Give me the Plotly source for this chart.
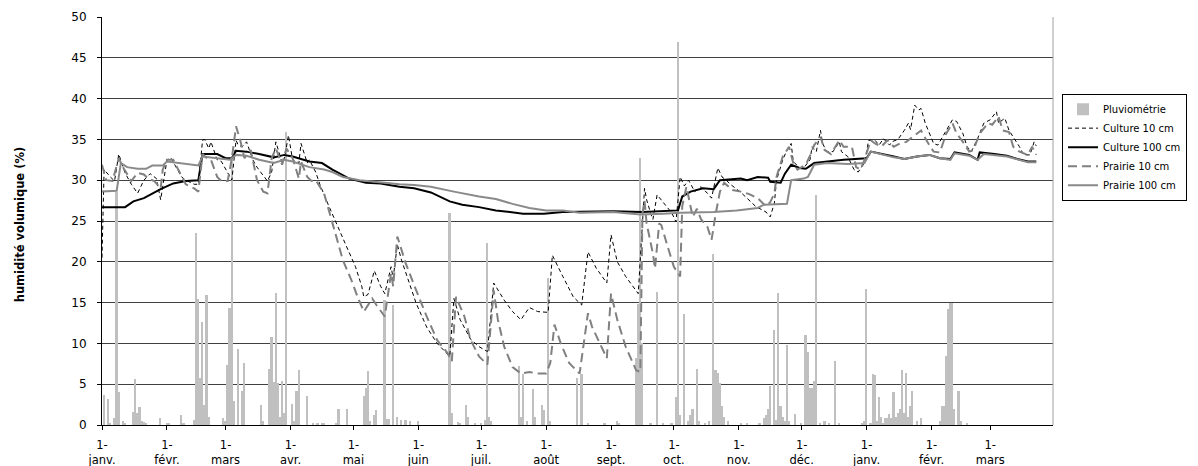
import pandas as pd
import plotly.graph_objects as go

START = pd.Timestamp("2006-01-01")

# ---- rainfall (day offset from 1 Jan 2006, mm) ----
rain_day = [1, 3, 4, 6, 7, 8, 10, 11, 15, 16, 17, 18, 19, 20, 21, 28, 31, 32, 38, 39,
            44, 45, 46, 47, 48, 49, 50, 51, 58, 59, 60, 61, 62, 63, 65, 67, 68, 76, 77,
            80, 81, 82, 83, 84, 85, 86, 87, 88, 91, 92, 93, 94, 98, 101, 103, 105, 106,
            112, 113, 117, 125, 126, 127, 128, 130, 131, 135, 136, 137, 139, 141, 143,
            145, 147, 151, 166, 167, 170, 171, 174, 175, 178, 181, 183, 184, 185, 186,
            199, 200, 201, 203, 206, 207, 210, 211, 213, 214, 227, 229, 232, 240, 246,
            247, 255, 256, 257, 258, 262, 265, 268, 272, 274, 275, 276, 278, 280, 281,
            282, 284, 285, 288, 290, 292, 293, 294, 295, 296, 297, 299, 305, 308, 314,
            316, 317, 318, 319, 321, 322, 323, 324, 325, 326, 327, 328, 331, 334, 336,
            337, 338, 339, 340, 341, 343, 345, 347, 350, 352, 363, 364, 365, 367, 368,
            369, 370, 371, 372, 373, 374, 375, 376, 377, 378, 379, 380, 381, 382, 383,
            384, 385, 386, 387, 389, 391, 400, 401, 402, 403, 404, 405, 406, 407, 409,
            410, 413]
rain_mm = [3.7, 3.2, 0.3, 0.8, 28.6, 4.0, 0.5, 0.3, 1.6, 5.6, 1.5, 2.2, 0.5, 0.4, 0.3, 0.9,
           0.3, 0.3, 1.2, 0.3,
           0.6, 23.5, 15.5, 5.7, 12.6, 2.4, 15.9, 1.0, 0.9, 0.5, 7.3, 14.4, 33.0, 2.9, 9.3,
           4.2, 7.6, 2.4, 0.5,
           6.9, 10.8, 5.3, 16.2, 5.2, 1.0, 5.4, 1.5, 35.9, 2.6, 0.5, 4.2, 6.8, 3.6, 0.3,
           0.3, 0.3, 0.3,
           0.3, 2.0, 2.0, 3.6, 4.5, 6.6, 0.5, 1.2, 1.9, 15.3, 0.7, 0.7, 14.7, 1.0, 0.6,
           0.6, 0.5, 0.5, 26.0, 1.5, 0.4, 0.3, 2.4, 1.0, 0.3, 0.3, 0.6, 22.3, 1.0, 0.5,
           7.2, 1.0, 6.2, 0.5, 4.4, 1.0, 2.4, 1.8, 18.0, 0.5, 5.7, 6.2, 0.3, 0.3, 0.5,
           0.3, 8.2, 14.8, 32.7, 10.0, 0.3, 16.3, 0.3, 0.3, 3.4, 46.9, 1.2, 13.6, 0.5, 1.2,
           2.0, 6.9, 0.5, 0.3, 0.5, 21.0, 6.8, 6.4, 5.2, 2.3, 1.0, 0.5, 0.3, 0.3, 0.3,
           0.8, 1.2, 2.0, 4.8, 11.6, 0.6, 16.2, 2.3, 1.0, 0.5, 9.8, 0.5, 1.3, 0.3, 11.0,
           9.0, 4.5, 4.5, 5.4, 28.2, 0.3, 0.5, 0.3, 7.8, 0.3, 0.3, 0.5, 16.7, 0.3, 6.3,
           6.1, 0.5, 3.4, 1.0, 0.3, 0.8, 0.8, 1.3, 0.8, 4.0, 1.0, 1.5, 2.0, 6.8, 1.5,
           6.4, 1.0, 2.3, 4.2, 0.5, 0.8, 0.5, 2.3, 2.3, 8.4, 14.2, 15.0, 15.0, 2.0, 4.2,
           0.5, 0.3]

# ---- Culture 10 cm ----
c10_day = [0, 1, 4, 6, 8, 11, 14, 17, 20, 23, 26, 28, 31, 33, 36, 38, 40, 44, 46, 48, 49,
           51, 52, 55, 57, 60, 62, 64, 65, 67, 69, 72, 74, 76, 79, 81, 83, 86, 87, 89, 91,
           94, 95, 98, 99, 102, 104, 107, 110, 114, 116, 121, 124, 125, 127, 130, 133,
           135, 138, 139, 141, 143, 146, 150, 155, 160, 166, 168, 171, 176, 180, 184,
           187, 192, 196, 200, 204, 208, 213, 215, 220, 225, 229, 232, 236, 241, 243,
           246, 250, 256, 259, 260, 262, 263, 265, 268, 272, 274, 276, 278, 280, 283,
           286, 289, 291, 294, 296, 298, 300, 305, 309, 312, 317, 319, 321, 322, 325,
           327, 329, 330, 333, 335, 338, 339, 341, 343, 344, 346, 349, 352, 353, 356,
           359, 361, 364, 366, 369, 371, 373, 376, 377, 380, 383, 385, 386, 388, 390,
           391, 393, 395, 397, 399, 403, 406, 408, 411, 413, 415, 418, 421, 424, 427,
           428, 431, 433, 435, 438, 440, 443, 445, 446]
c10_val = [20.5, 31.3, 30.4, 29.9, 33.2, 30.9, 29.5, 28.4, 30.0, 30.8, 30.2, 27.6, 32.5,
           32.7, 31.3, 30.4, 30.0, 29.5, 29.5, 34.9, 35.0, 33.9, 34.7, 32.5, 32.3, 31.0,
           30.0, 34.9, 34.3, 34.1, 34.7, 32.5, 31.6, 30.9, 29.9, 31.0, 34.7, 32.1, 32.5,
           35.5, 32.5, 32.1, 34.5, 32.1, 32.5, 31.0, 29.5, 27.6, 25.9, 23.5, 22.3, 19.4,
           17.0, 15.7, 16.0, 18.9, 17.0, 16.1, 19.4, 18.0, 22.1, 20.2, 18.0, 14.9, 12.0,
           10.0, 8.4, 15.5, 12.9, 10.5, 9.6, 9.0, 17.4, 15.3, 13.9, 12.9, 14.4, 13.9,
           13.8, 20.8, 18.2, 15.7, 14.7, 21.2, 19.2, 17.4, 23.3, 20.0, 18.2, 16.1, 29.0,
           27.6, 25.9, 25.2, 28.2, 27.2, 26.0, 24.9, 30.4, 29.3, 30.0, 28.6, 29.2, 28.4,
           27.8, 31.5, 30.4, 30.0, 29.5, 28.5, 27.5, 26.8, 26.1, 25.5, 27.2, 30.0, 32.5,
           33.7, 34.5, 32.3, 31.5, 31.5, 32.5, 34.1, 33.5, 36.1, 34.5, 33.5, 33.5, 34.7,
           33.5, 32.9, 31.3, 31.0, 32.1, 34.9, 34.9, 34.3, 35.1, 34.3, 34.7, 35.0, 36.1,
           37.0, 36.2, 39.2, 38.6, 38.8, 37.0, 35.7, 34.5, 34.3, 36.1, 37.4, 37.2, 35.7,
           34.1, 33.5, 35.1, 37.0, 37.4, 38.4, 37.0, 37.6, 36.1, 35.3, 34.1, 33.1, 33.1,
           34.7, 34.2]

# ---- Culture 100 cm ----
c100_day = [0, 11, 15, 20, 28, 34, 40, 46, 48, 55, 59, 62, 64, 69, 75, 82, 87, 91, 99,
            105, 110, 118, 126, 133, 142, 149, 157, 166, 172, 180, 188, 201, 211, 220,
            244, 258, 275, 277, 281, 287, 292, 295, 305, 308, 313, 318, 319, 324, 326,
            329, 333, 336, 340, 346, 354, 365, 367, 378, 383, 389, 395, 400, 405, 407,
            414, 418, 419, 426, 432, 437, 442, 446]
c100_val = [26.7, 26.7, 27.4, 27.8, 28.9, 29.6, 29.9, 30.0, 33.2, 33.2, 32.7, 32.7, 33.6,
            33.5, 33.2, 32.8, 33.1, 32.9, 32.3, 32.1, 31.3, 30.2, 29.7, 29.6, 29.2, 29.0,
            28.5, 27.4, 27.0, 26.7, 26.3, 25.9, 25.9, 26.1, 26.2, 26.1, 26.3, 28.0, 28.6,
            29.0, 28.9, 30.0, 30.2, 30.0, 30.4, 30.3, 29.8, 29.7, 30.8, 31.9, 31.5, 31.4,
            32.1, 32.3, 32.5, 32.7, 33.5, 32.9, 32.6, 32.9, 33.1, 32.7, 32.6, 33.4, 33.1,
            32.5, 33.4, 33.2, 33.0, 32.6, 32.3, 32.3]

# ---- Prairie 10 cm ----
p10_day = [0, 2, 5, 8, 10, 14, 17, 20, 22, 25, 28, 29, 31, 34, 37, 40, 44, 46, 48, 50,
           52, 55, 57, 60, 62, 64, 66, 68, 71, 74, 77, 79, 81, 83, 86, 88, 91, 94, 95,
           98, 100, 102, 106, 110, 115, 119, 122, 125, 129, 131, 135, 138, 139, 141, 145,
           150, 155, 160, 165, 167, 169, 173, 176, 180, 184, 187, 189, 192, 196, 200,
           204, 208, 212, 214, 216, 219, 223, 228, 232, 234, 238, 241, 243, 246, 250,
           255, 257, 258, 259, 260, 263, 264, 266, 267, 270, 273, 276, 277, 279, 282,
           284, 286, 289, 291, 293, 295, 297, 301, 305, 309, 313, 317, 319, 321, 322,
           325, 328, 330, 332, 336, 338, 340, 343, 345, 348, 352, 354, 358, 360, 362,
           364, 367, 369, 372, 375, 378, 381, 384, 387, 391, 394, 397, 400, 403, 406,
           408, 411, 414, 416, 419, 423, 425, 428, 430, 433, 435, 438, 442, 444, 446]
p10_val = [31.9, 30.0, 29.9, 32.7, 31.6, 29.9, 30.9, 30.7, 30.2, 29.9, 29.0, 31.3, 32.5,
           32.5, 31.0, 29.5, 29.0, 28.6, 33.2, 32.7, 32.5, 30.4, 29.9, 29.9, 32.7, 36.6,
           34.9, 32.7, 33.7, 30.0, 28.6, 28.4, 32.7, 33.9, 31.9, 33.9, 32.7, 30.2, 32.3,
           30.4, 29.9, 30.0, 28.4, 24.7, 20.2, 17.8, 15.7, 13.9, 15.5, 14.7, 13.3, 18.6,
           17.0, 23.1, 19.8, 16.5, 13.3, 10.4, 8.8, 7.8, 15.7, 13.3, 10.4, 8.4, 7.4,
           16.5, 12.9, 9.6, 7.1, 6.3, 6.5, 6.3, 6.3, 7.6, 12.3, 10.0, 7.6, 6.3, 13.7,
           12.0, 9.8, 8.2, 16.1, 12.9, 9.6, 6.7, 6.5, 25.9, 27.5, 24.7, 21.0, 19.2, 24.7,
           24.5, 21.9, 19.4, 18.2, 26.8, 29.2, 25.5, 26.5, 25.2, 24.3, 22.7, 25.9, 28.6,
           29.7, 28.8, 28.6, 28.3, 27.8, 26.8, 27.3, 28.4, 30.4, 32.9, 34.1, 32.1, 31.3,
           31.9, 33.0, 34.3, 35.3, 33.7, 33.2, 34.9, 34.1, 34.1, 31.6, 31.3, 32.5, 34.9,
           34.5, 34.1, 34.9, 34.1, 34.5, 34.7, 35.3, 36.1, 34.7, 33.5, 33.4, 35.7, 37.0,
           35.7, 34.7, 33.5, 33.7, 35.7, 37.0, 36.8, 37.8, 36.1, 35.9, 34.1, 33.5, 33.1,
           34.1, 33.1]

# ---- Prairie 100 cm ----
p100_day = [0, 7, 9, 12, 17, 21, 24, 29, 31, 37, 42, 46, 48, 55, 61, 64, 69, 75, 82, 87,
            91, 99, 106, 110, 115, 123, 134, 142, 149, 157, 168, 174, 180, 188, 196, 204,
            212, 220, 228, 244, 257, 268, 276, 292, 303, 313, 316, 327, 329, 335, 337,
            340, 346, 356, 364, 367, 378, 383, 389, 395, 400, 405, 407, 414, 418, 421,
            432, 442, 446]
p100_val = [28.6, 28.7, 32.1, 31.6, 31.4, 31.4, 31.8, 31.8, 32.3, 32.1, 31.9, 31.8, 32.9,
            32.7, 32.5, 33.1, 33.0, 32.5, 32.1, 32.5, 32.3, 31.6, 31.3, 31.0, 30.4, 30.0,
            29.7, 29.5, 29.4, 29.2, 28.6, 28.3, 28.0, 27.7, 27.1, 26.6, 26.3, 26.3, 26.0,
            26.1, 25.8, 25.9, 26.0, 26.1, 26.3, 26.6, 27.0, 27.1, 30.0, 30.2, 30.4, 31.9,
            32.1, 32.0, 32.1, 33.5, 32.8, 32.6, 32.9, 33.1, 32.7, 32.5, 33.3, 33.0, 32.5,
            33.2, 32.9, 32.2, 32.2]

month_ticks = pd.date_range("2006-01-01", "2007-03-01", freq="MS")
month_names = ["janv.", "févr.", "mars", "avr.", "mai", "juin", "juil.", "août",
               "sept.", "oct.", "nov.", "déc.", "janv.", "févr.", "mars"]
tick_text = ["1-<br>" + m for m in month_names]


def to_dates(days):
    return START + pd.to_timedelta(days, unit="D")


FONT = "DejaVu Sans"
fig = go.Figure()
fig.add_trace(go.Bar(x=to_dates(rain_day), y=rain_mm, name="Pluviométrie",
                     marker=dict(color="#c0c0c0", line=dict(width=0)),
                     width=0.8 * 86400000))
fig.add_trace(go.Scatter(x=to_dates(c10_day), y=c10_val, name="Culture 10 cm", mode="lines",
                         line=dict(color="black", width=1, dash="4px,3px")))
fig.add_trace(go.Scatter(x=to_dates(c100_day), y=c100_val, name="Culture 100 cm", mode="lines",
                         line=dict(color="black", width=2)))
fig.add_trace(go.Scatter(x=to_dates(p10_day), y=p10_val, name="Prairie 10 cm", mode="lines",
                         line=dict(color="#808080", width=2, dash="9px,5px")))
fig.add_trace(go.Scatter(x=to_dates(p100_day), y=p100_val, name="Prairie 100 cm", mode="lines",
                         line=dict(color="#8a8a8a", width=2)))

fig.update_layout(
    width=1198, height=466,
    margin=dict(l=94, r=153, t=9, b=49, autoexpand=False),
    paper_bgcolor="white", plot_bgcolor="white",
    font=dict(family=FONT, color="black"),
    bargap=0,
    showlegend=True,
    legend=dict(x=1.0095, xanchor="left", y=0.681, yanchor="middle",
                bordercolor="black", borderwidth=1, bgcolor="white",
                font=dict(family=FONT, size=10, color="black"),
                tracegroupgap=0, itemwidth=30),
    xaxis=dict(type="date", range=["2006-01-01", "2007-03-31"],
               tickvals=month_ticks, ticktext=tick_text,
               tickfont=dict(family=FONT, size=11.5, color="black"),
               showgrid=False, showline=True, linecolor="black", linewidth=1,
               ticks="outside", ticklen=4, tickcolor="black", zeroline=False,
               automargin=False, ticklabelstandoff=5),
    yaxis=dict(range=[0, 50], dtick=5, tick0=0,
               tickfont=dict(family=FONT, size=12, color="black"),
               showgrid=True, gridcolor="#404040", gridwidth=1,
               showline=True, linecolor="black", linewidth=1,
               ticks="outside", ticklen=4, tickcolor="black", zeroline=False,
               automargin=False, ticklabelstandoff=8),
    shapes=[dict(type="line", xref="paper", yref="paper", x0=1, x1=1, y0=0, y1=1,
                 line=dict(color="#a0a0a0", width=1))],
    annotations=[dict(text="<b>humidité volumique (%)</b>", textangle=-90,
                      xref="paper", yref="paper", x=-0.086, y=0.49,
                      xanchor="center", yanchor="middle", showarrow=False,
                      font=dict(family=FONT, size=11.5, color="black"))],
)

fig.write_html("out.html")
